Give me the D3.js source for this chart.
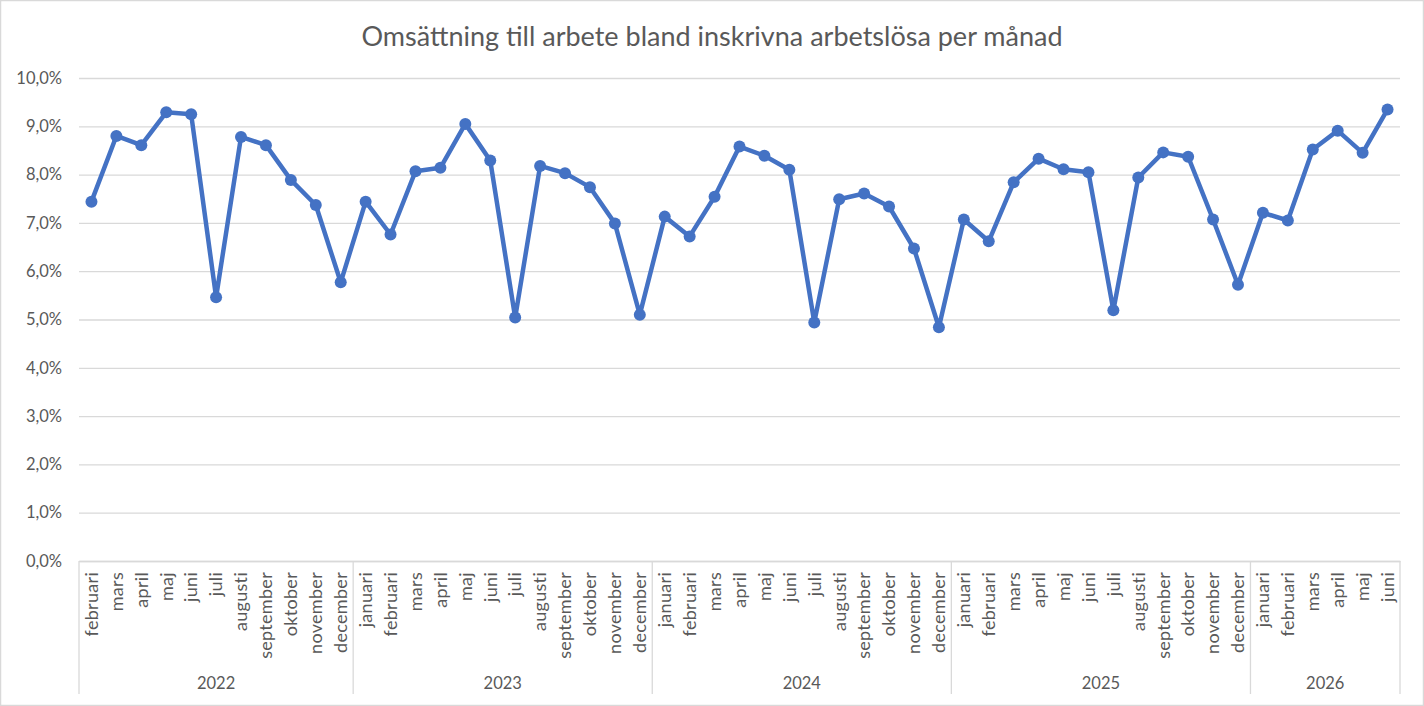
<!DOCTYPE html>
<html>
<head>
<meta charset="utf-8">
<script src="https://cdn.jsdelivr.net/npm/d3@7"></script>
<style>
  html, body { margin: 0; padding: 0; background: #fff; }
  svg { display: block; font-family: Lato, "Open Sans", sans-serif; }
</style>
</head>
<body>
<svg id="chart" width="1424" height="706"></svg>
<script>
const TITLE = "Omsättning till arbete bland inskrivna arbetslösa per månad";

const YEARS = ["2022", "2023", "2024", "2025", "2026"];
const MONTHS = ["januari", "februari", "mars", "april", "maj", "juni", "juli",
  "augusti", "september", "oktober", "november", "december"];

// month labels per year (feb 2022 .. jun 2026)
const MONTHS_2022 = MONTHS.slice(1);
const MONTHS_2023 = MONTHS;
const MONTHS_2024 = MONTHS;
const MONTHS_2025 = MONTHS;
const MONTHS_2026 = MONTHS.slice(0, 6);

// values in percent
const VALUES_2022 = [7.44, 8.80, 8.61, 9.29, 9.25, 5.46, 8.78, 8.61, 7.89, 7.37, 5.77];
const VALUES_2023 = [7.44, 6.76, 8.07, 8.14, 9.05, 8.29, 5.04, 8.18, 8.03, 7.74, 6.99, 5.10];
const VALUES_2024 = [7.13, 6.72, 7.54, 8.58, 8.39, 8.10, 4.94, 7.49, 7.61, 7.34, 6.47, 4.84];
const VALUES_2025 = [7.07, 6.62, 7.84, 8.33, 8.11, 8.05, 5.19, 7.94, 8.46, 8.37, 7.07, 5.72];
const VALUES_2026 = [7.21, 7.05, 8.52, 8.91, 8.45, 9.35];

const Y_TICKS = [0, 1, 2, 3, 4, 5, 6, 7, 8, 9, 10];

const MARGIN = { top: 78, right: 24, bottom: 145, left: 79 };
const W = 1424, H = 706;
const innerW = W - MARGIN.left - MARGIN.right;
const innerH = H - MARGIN.top - MARGIN.bottom;
const FONT = "Lato, 'Open Sans', sans-serif";

const monthGroups = [MONTHS_2022, MONTHS_2023, MONTHS_2024, MONTHS_2025, MONTHS_2026];
const valueGroups = [VALUES_2022, VALUES_2023, VALUES_2024, VALUES_2025, VALUES_2026];

const points = [];
monthGroups.forEach((ms, gi) => {
  ms.forEach((m, mi) => {
    points.push({ key: `${YEARS[gi]}-${m}`, year: YEARS[gi], month: m, v: valueGroups[gi][mi] });
  });
});

const svg = d3.select("#chart");
const TEXT = "#595959";
const GRID = "#d9d9d9";
const BLUE = "#4472c4";

// outer border
svg.append("rect")
  .attr("x", 0.5).attr("y", 0.5).attr("width", W - 1).attr("height", H - 1)
  .attr("fill", "#fff").attr("stroke", "#d9d9d9").attr("stroke-width", 1.5);

svg.append("text")
  .attr("x", 712).attr("y", 46)
  .attr("text-anchor", "middle")
  .attr("font-size", 27)
  .attr("fill", TEXT)
  .text(TITLE);

const g = svg.append("g").attr("transform", `translate(${MARGIN.left},${MARGIN.top})`);

const x = d3.scaleBand(points.map(p => p.key), [0, innerW]);
const y = d3.scaleLinear([0, 10], [innerH, 0]);

// grid
g.append("g")
  .call(d3.axisLeft(y).tickValues(Y_TICKS).tickSize(-innerW).tickFormat(""))
  .call(a => a.select(".domain").remove())
  .call(a => a.selectAll("line").attr("stroke", GRID).attr("stroke-width", 1.3));

// y axis labels
const fmt = d => d3.format(".1f")(d).replace(".", ",") + "%";
g.append("g")
  .call(d3.axisLeft(y).tickValues(Y_TICKS).tickSize(0).tickPadding(17).tickFormat(fmt))
  .call(a => a.select(".domain").remove())
  .call(a => a.selectAll("text").attr("fill", TEXT).attr("font-size", 16.5)
    .attr("font-family", FONT));

// x axis: months
const xAxis = g.append("g")
  .attr("transform", `translate(0,${innerH})`)
  .call(d3.axisBottom(x).tickSize(0).tickFormat(k => k.split("-")[1]));
xAxis.select(".domain").attr("stroke", GRID).attr("stroke-width", 1.3);
xAxis.selectAll("text")
  .attr("fill", TEXT).attr("font-size", 18)
  .attr("font-family", FONT)
  .attr("letter-spacing", 0.3)
  .attr("transform", "rotate(-90)")
  .attr("text-anchor", "end")
  .attr("x", -11).attr("y", 0).attr("dy", "0.35em");

// year group dividers and labels
const groupH = 133;
let idx = 0;
const bounds = [0];
monthGroups.forEach(ms => { idx += ms.length; bounds.push(idx); });
const keys = points.map(p => p.key);
const edgeX = i => i >= keys.length ? innerW : x(keys[i]);

g.append("g").selectAll("line")
  .data(bounds)
  .join("line")
  .attr("x1", d => edgeX(d)).attr("x2", d => edgeX(d))
  .attr("y1", innerH).attr("y2", innerH + groupH)
  .attr("stroke", GRID).attr("stroke-width", 1.3);

g.append("g").selectAll("text")
  .data(YEARS)
  .join("text")
  .attr("x", (d, i) => (edgeX(bounds[i]) + edgeX(bounds[i + 1])) / 2)
  .attr("y", innerH + 128)
  .attr("text-anchor", "middle")
  .attr("font-size", 16.5)
  .attr("fill", TEXT)
  .text(d => d);

// line and markers
const cx = p => x(p.key) + x.bandwidth() / 2;
g.append("path")
  .datum(points)
  .attr("d", d3.line().x(cx).y(p => y(p.v)))
  .attr("fill", "none")
  .attr("stroke", BLUE)
  .attr("stroke-width", 4.5)
  .attr("stroke-linejoin", "round");

g.append("g").selectAll("circle")
  .data(points)
  .join("circle")
  .attr("cx", cx)
  .attr("cy", p => y(p.v))
  .attr("r", 6)
  .attr("fill", BLUE);
</script>
</body>
</html>
